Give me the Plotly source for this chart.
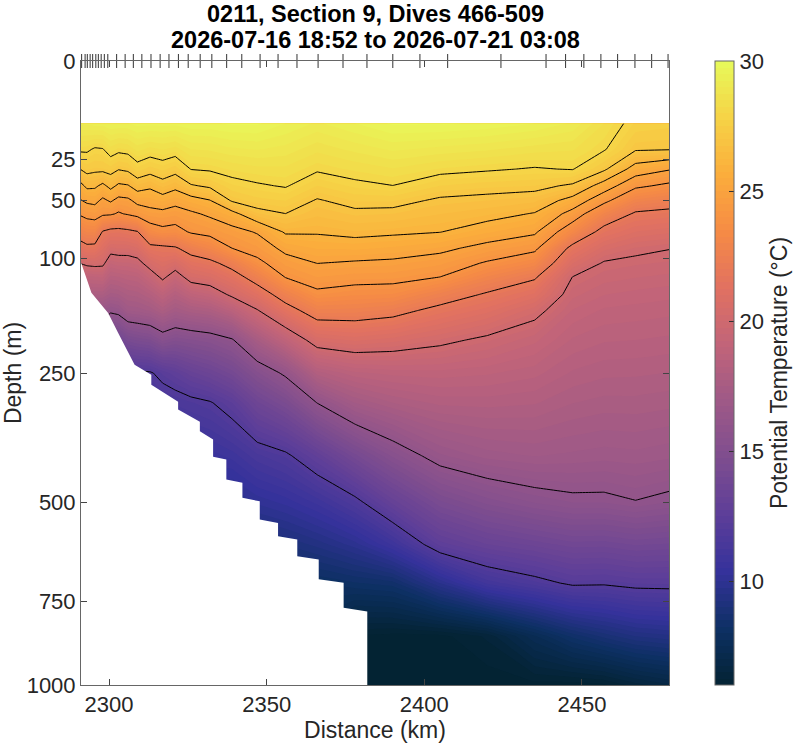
import plotly.graph_objects as go

# station distances (km) and depth levels (m) of the gridded section
distance_km = [2291.1, 2293, 2295.5, 2298, 2300.5, 2303, 2306, 2309, 2313, 2317,
               2321, 2326, 2332, 2339, 2347, 2356, 2366, 2378, 2390, 2405,
               2420, 2435, 2447, 2457, 2467, 2477.6]
depth_m = [10, 20, 30, 40, 50, 60, 75, 90, 105, 120, 140, 160, 200, 250, 300,
           400, 500, 600, 700, 850, 1000]

# potential temperature (degC), one profile per station, top to bottom
# None = below the seafloor (no data)
temp_profiles = [
    [29.3, 28.15, 27.05, 25.77, 24.96, 24.16, 22.78, 21.4, 20.05, 18.79] + [None] * 11,
    [29.3, 28.13, 27.31, 26.21, 25.17, 24.36, 23.04, 21.68, 20.25, 18.89, 17.71] + [None] * 10,
    [29.4, 27.91, 27.2, 26.16, 25.25, 24.46, 23.08, 21.62, 20.33, 18.96, 17.75, 16.44] + [None] * 9,
    [29.4, 27.96, 27.22, 25.79, 24.82, 24.19, 21.9, 21.04, 20.26, 19.03, 17.78, 16.45] + [None] * 9,
    [29.5, 28.39, 27.35, 26.27, 25.11, 24.14, 21.59, 20.46, 19.28, 18.39, 17.4, 16.21, 13.58] + [None] * 8,
    [29.5, 28.2, 27.05, 25.84, 24.73, 23.88, 21.56, 20.52, 19.43, 18.48, 17.49, 16.36, 13.75] + [None] * 8,
    [29.5, 28.27, 27.18, 25.93, 24.81, 24.11, 21.69, 20.52, 19.45, 18.62, 17.79, 17.01, 14.35, 11.76] + [None] * 7,
    [29.6, 28.6, 27.67, 26.43, 25.27, 24.38, 21.93, 20.73, 19.62, 18.72, 17.87, 17.08, 14.56, 11.83] + [None] * 7,
    [29.6, 28.41, 27.37, 26.17, 25.37, 24.68, 23.36, 21.62, 20.49, 19.36, 18.23, 17.29, 14.73, 11.89, 11.23] + [None] * 6,
    [29.6, 28.52, 27.59, 26.61, 25.57, 24.74, 23.69, 21.71, 20.94, 20.22, 18.83, 17.79, 15.35, 12.31, 11.4] + [None] * 6,
    [29.6, 28.38, 27.33, 26.27, 25.29, 24.61, 23.57, 21.86, 20.61, 19.41, 18.25, 17.31, 15.05, 12.65, 11.52] + [None] * 6,
    [29.7, 28.76, 28.03, 26.91, 25.62, 24.84, 24.12, 22.54, 21.36, 20.48, 18.91, 17.65, 15.21, 13.15, 11.72, 10.45] + [None] * 5,
    [29.7, 28.8, 28.11, 27.15, 25.96, 25.16, 24.34, 23.08, 21.66, 20.73, 19.23, 17.87, 15.41, 13.53, 11.92, 10.6] + [None] * 5,
    [29.8, 28.95, 28.3, 27.7, 27.1, 25.7, 24.65, 24.0, 22.49, 21.39, 20.24, 18.62, 15.88, 14.1, 12.5, 10.85, 9.62] + [None] * 4,
    [29.8, 29.02, 28.42, 27.91, 27.39, 26.72, 25.08, 24.43, 23.73, 22.61, 21.22, 19.91, 17.51, 15.17, 13.68, 11.43, 10.06, 8.81] + [None] * 3,
    [29.5, 28.9, 28.44, 28.06, 27.51, 26.99, 26.11, 25.26, 24.6, 24.04, 22.66, 21.42, 18.95, 16.22, 14.51, 11.81, 10.34, 9.01] + [None] * 3,
    [29.2, 28.58, 28.1, 27.5, 26.93, 26.57, 26.08, 25.53, 25.01, 24.5, 23.77, 22.67, 20.55, 18.13, 16.02, 12.81, 10.83, 9.35, 7.99] + [None] * 2,
    [29.5, 28.83, 28.31, 27.82, 27.28, 26.81, 26.23, 25.57, 24.9, 24.36, 23.55, 22.63, 20.81, 18.68, 17.25, 14.16, 11.7, 9.89, 8.22, 5.95, 5.5],
    [29.8, 29.05, 28.48, 27.99, 27.29, 26.75, 26.14, 25.45, 24.83, 24.33, 23.47, 22.39, 20.61, 18.84, 17.75, 15.32, 13.1, 10.82, 8.4, 5.88, 5.5],
    [29.8, 28.91, 28.23, 27.5, 26.86, 26.51, 26.02, 25.22, 24.57, 23.99, 22.66, 21.64, 20.23, 18.89, 18.08, 16.44, 14.44, 12.62, 9.77, 5.9, 5.6],
    [29.7, 28.79, 28.09, 27.33, 26.75, 26.31, 25.55, 24.7, 23.89, 22.95, 21.86, 21.1, 19.8, 18.79, 18.11, 16.87, 15.09, 13.25, 11.08, 6.3, 5.8],
    [29.5, 28.62, 27.94, 27.25, 26.58, 25.94, 25.15, 24.25, 23.2, 22.14, 21.18, 20.32, 19.33, 18.59, 18.03, 17.02, 15.53, 13.59, 11.67, 7.45, 5.9],
    [29.2, 28.54, 28.04, 26.86, 25.66, 24.64, 23.24, 21.62, 20.76, 19.98, 19.59, 19.23, 18.71, 18.21, 17.76, 16.94, 15.76, 13.89, 12.16, 8.32, 5.85],
    [28.5, 28.07, 27.16, 25.54, 24.29, 22.96, 21.52, 20.61, 19.91, 19.62, 19.26, 18.95, 18.53, 18.07, 17.65, 16.87, 15.76, 13.86, 12.11, 8.83, 5.95],
    [27.7, 27.1, 25.56, 24.21, 22.89, 21.84, 20.99, 20.22, 19.79, 19.51, 19.16, 18.89, 18.5, 18.05, 17.66, 16.92, 15.96, 14.05, 12.29, 9.25, 6.38],
    [27.6, 27.05, 25.08, 23.78, 22.55, 21.68, 20.82, 20.03, 19.71, 19.43, 19.08, 18.83, 18.44, 17.99, 17.59, 16.82, 15.75, 13.96, 12.31, 9.43, 6.7],
]

# isotherms drawn as black lines
line_levels = [12, 16, 20, 22, 24, 25, 26, 27, 28]

# seafloor outline (km, m)
bottom_km = [2291.2, 2294.4, 2299.7, 2302.9, 2305.5, 2308.1, 2313.4, 2313.4,
             2321.9, 2321.9, 2328.8, 2328.8, 2333.0, 2333.0, 2337.2, 2337.2,
             2342.3, 2342.3, 2347.8, 2347.8, 2353.6, 2353.6, 2359.7, 2359.7,
             2366.5, 2366.5, 2374.4, 2374.4, 2381.9, 2381.9]
bottom_m = [105, 138, 163, 190, 214, 237, 253, 269, 298, 312, 334, 352, 368,
            402, 408, 450, 457, 490, 498, 540, 548, 580, 588, 630, 638, 690,
            699, 768, 778, 1000]

# dive positions along the track (km)
dive_km = [2291.3, 2292.4, 2293.1, 2294.0, 2294.8, 2295.8, 2296.6, 2297.5,
           2298.5, 2299.6, 2302.4, 2305.1, 2307.7, 2310.4, 2313.3, 2316.2,
           2319.0, 2322.0, 2325.1, 2328.9, 2332.6, 2337.3, 2342.1, 2347.9,
           2353.6, 2359.6, 2366.3, 2374.2, 2381.8, 2390.0, 2398.6, 2407.4,
           2424.3, 2438.6, 2444.8, 2450.6, 2456.0, 2461.3, 2466.8, 2472.1,
           2477.3]

depth_ticks = [0, 25, 50, 100, 250, 500, 750, 1000]
temp_ticks = [10, 15, 20, 25, 30]
title_lines = ["0211, Section 9, Dives 466-509",
               "2026-07-16 18:52 to 2026-07-21 03:08"]

FONT = "Liberation Sans, Arial, sans-serif"
TXT = "#262626"


def sq(v):
    # depth axis is drawn on a square-root scale
    return [d ** 0.5 for d in v]


ys = sq(depth_m)
z = [list(row) for row in zip(*temp_profiles)]

fig = go.Figure()

fig.add_trace(go.Contour(
    x=distance_km, y=ys, z=z,
    colorscale="thermal", zmin=6, zmax=30,
    autocontour=False,
    contours=dict(start=6, end=30, size=0.25, coloring="fill", showlines=False),
    line=dict(width=0, smoothing=0),
    hoverinfo="skip",
    colorbar=dict(
        x=1.078, xanchor="left", y=0.5, yanchor="middle",
        len=1, lenmode="fraction", thickness=19, xpad=0, ypad=0,
        outlinecolor="#666", outlinewidth=1,
        tickvals=temp_ticks, ticks="inside", ticklen=5, tickcolor="#333",
        tickfont=dict(family=FONT, size=22, color=TXT),
        title=dict(text="Potential Temperature (°C)", side="right",
                   font=dict(family=FONT, size=23, color=TXT)),
    ),
))

for lev in line_levels:
    fig.add_trace(go.Contour(
        x=distance_km, y=ys, z=z,
        autocontour=False,
        contours=dict(start=lev, end=lev + 0.5, size=1, coloring="none"),
        line=dict(color="black", width=1, smoothing=0),
        showscale=False, hoverinfo="skip",
    ))

# white out everything below the seafloor
fig.add_trace(go.Scatter(
    x=[2285] + bottom_km + [2285],
    y=sq([bottom_m[0]] + bottom_m + [1000]),
    mode="lines", fill="toself", fillcolor="white",
    line=dict(width=0, color="white"),
    showlegend=False, hoverinfo="skip",
))

# dive markers along the top edge
fig.add_trace(go.Scatter(
    x=dive_km, y=[0] * len(dive_km),
    mode="markers", cliponaxis=False,
    marker=dict(symbol="line-ns", size=10, line=dict(width=1, color="#333")),
    showlegend=False, hoverinfo="skip",
))

for i, txt in enumerate(title_lines):
    fig.add_annotation(
        text="<b>%s</b>" % txt, xref="paper", yref="paper",
        x=0.5, y=[1.0753, 1.0337][i], xanchor="center", yanchor="middle",
        showarrow=False, font=dict(family=FONT, size=23.5, color="black"),
    )

fig.update_layout(
    width=800, height=746,
    margin=dict(l=81, r=131, t=61, b=61, autoexpand=False),
    paper_bgcolor="white", plot_bgcolor="white",
    font=dict(family=FONT, size=22, color=TXT),
    showlegend=False,
    xaxis=dict(
        range=[2291.1, 2477.6], tickvals=[2300, 2350, 2400, 2450],
        ticks="inside", ticklen=6, tickcolor="#444",
        showline=True, linecolor="#666", linewidth=1, mirror="ticks",
        showgrid=False, zeroline=False, automargin=False,
        tickfont=dict(family=FONT, size=22, color=TXT),
        title=dict(text="Distance (km)", standoff=2,
                   font=dict(family=FONT, size=23, color=TXT)),
    ),
    yaxis=dict(
        range=[1000 ** 0.5, 0], tickvals=sq(depth_ticks),
        ticktext=[str(d) for d in depth_ticks],
        ticks="inside", ticklen=6, tickcolor="#444",
        showline=True, linecolor="#666", linewidth=1, mirror="ticks",
        showgrid=False, zeroline=False, automargin=False,
        tickfont=dict(family=FONT, size=22, color=TXT),
        title=dict(text="Depth (m)", standoff=0,
                   font=dict(family=FONT, size=23, color=TXT)),
    ),
)

# the page gets a default 8px body margin; drop it so the figure sits at 0,0
fix_page = ("document.body.style.margin='0';"
            "document.body.style.overflow='hidden';"
            "Plotly.relayout('{plot_id}', {width: 800, height: 746});")

fig.write_html("out.html", config={"responsive": False, "displayModeBar": False},
               post_script=fix_page)
